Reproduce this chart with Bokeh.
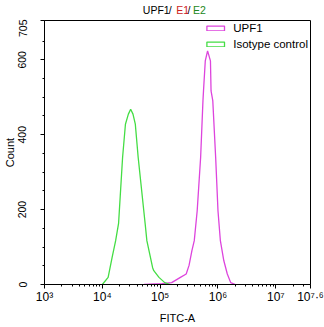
import numpy as np
from bokeh.plotting import figure
from bokeh.layouts import column
from bokeh.models import (Range1d, FixedTicker, Legend, LegendItem, ColumnDataSource)
from bokeh.core.properties import value
from bokeh.embed import file_html
from bokeh.resources import INLINE

# ---- data (FITC-A value, count) ----
iso_fitc = [1.0e4, 1.26e4, 1.48e4, 1.70e4, 1.91e4, 2.24e4, 2.51e4, 2.82e4, 3.09e4,
            3.39e4, 3.72e4, 4.17e4, 5.50e4, 5.89e4, 7.41e4, 7.76e4, 9.55e4, 1.20e5, 1.48e5]
iso_count = [0, 19, 73, 117, 163, 339, 428, 455, 468,
             455, 428, 339, 163, 117, 45, 37, 19, 5, 0]

upf_fitc = [5.25e4, 1.07e5, 1.58e5, 2.24e5, 2.82e5, 3.16e5, 3.55e5, 3.89e5, 4.37e5,
            5.01e5, 5.50e5, 5.62e5, 6.03e5, 6.61e5, 7.41e5, 7.59e5, 8.13e5, 9.12e5,
            1.0e6, 1.10e6, 1.26e6, 1.45e6, 1.66e6, 2.0e6]
upf_count = [0, 2, 5, 19, 28, 51, 91, 117, 197,
             339, 491, 517, 597, 624, 597, 517, 491, 339,
             197, 117, 64, 28, 5, 0]

x_ticks = [1e3, 1e4, 1e5, 1e6, 1e7, 10 ** 7.6]
x_tick_labels = ["10³", "10⁴", "10⁵", "10⁶", "10⁷", "10⁷·⁶"]
y_ticks = [0, 200, 400, 600, 705]
y_minor = [50, 100, 150, 250, 300, 350, 450, 500, 550, 650]
x_minor = [m * 10 ** d for d in range(3, 8) for m in range(2, 10) if m * 10 ** d < 10 ** 7.6]

title_parts = ["UPF1", "/", "E1", "/", "E2"]
title_colors = ["black", "black", "#cc2222", "black", "#228822"]

MAGENTA = "#dd44dd"
GREEN = "#44dd44"
FONT = "Liberation Sans"
TITLE_H = 19
FRAME_L, FRAME_R = 43, 310   # canvas pixels of the plot frame (title strip shares them)

# ---- title strip (its frame is aligned with the plot frame by the column) ----
tf = figure(width=324, height=TITLE_H, x_range=Range1d(FRAME_L, FRAME_R),
            y_range=Range1d(TITLE_H, 0),
            output_backend="svg", toolbar_location=None,
            min_border_left=0, min_border_right=0, min_border_top=0, min_border_bottom=0)
tf.axis.visible = False
tf.grid.visible = False
tf.outline_line_color = None
tf.background_fill_color = "white"
tf.border_fill_color = "white"
tsrc = ColumnDataSource(dict(x=[141.7, 167.6, 175.3, 186.6, 192.0], y=[9.5] * 5,
                             text=title_parts, color=title_colors))
tf.text(x="x", y="y", text="text", text_color="color", source=tsrc,
        text_font=value(FONT), text_font_size="10.5px",
        text_align="left", text_baseline="middle")

# ---- main plot ----
p = figure(width=324, height=327 - TITLE_H, x_axis_type="log",
           x_range=Range1d(1e3, 10 ** 7.6), y_range=Range1d(0, 705),
           output_backend="svg", toolbar_location=None,
           min_border_left=FRAME_L, min_border_right=324 - FRAME_R,
           min_border_top=1, min_border_bottom=43)

p.background_fill_color = "white"
p.border_fill_color = "white"
p.outline_line_color = "black"
p.outline_line_width = 1
p.grid.visible = False

r_upf = p.line(upf_fitc, upf_count, line_color=MAGENTA, line_width=1.3)
r_iso = p.line(iso_fitc, iso_count, line_color=GREEN, line_width=1.3)

# legend swatches (outlined boxes, no visible data)
nan = [float("nan")]
sw_upf = p.quad(left=nan, right=nan, top=nan, bottom=nan, fill_alpha=0,
                line_color=MAGENTA, line_width=1.3)
sw_iso = p.quad(left=nan, right=nan, top=nan, bottom=nan, fill_alpha=0,
                line_color=GREEN, line_width=1.3)

legend = Legend(items=[LegendItem(label="UPF1", renderers=[sw_upf]),
                       LegendItem(label="Isotype control", renderers=[sw_iso])],
                location="top_right", margin=2, padding=0, spacing=4,
                glyph_width=22, glyph_height=6, label_height=12, label_standoff=7,
                border_line_color=None, background_fill_alpha=0,
                label_text_font=FONT, label_text_font_size="11.5px", label_text_color="black")
p.add_layout(legend)

# axes
xa = p.xaxis[0]
xa.ticker = FixedTicker(ticks=x_ticks, minor_ticks=x_minor)
xa.major_label_overrides = {t: l for t, l in zip(x_ticks, x_tick_labels)}
ya = p.yaxis[0]
ya.ticker = FixedTicker(ticks=y_ticks, minor_ticks=y_minor)
ya.major_label_orientation = "vertical"

for ax in (xa, ya):
    ax.axis_line_color = "black"
    ax.major_tick_line_color = "black"
    ax.minor_tick_line_color = "black"
    ax.major_tick_out = 4
    ax.major_tick_in = 0
    ax.minor_tick_out = 2
    ax.minor_tick_in = 0
    ax.major_label_text_font = FONT
    ax.major_label_text_color = "black"
    ax.axis_label_text_font = FONT
    ax.axis_label_text_font_size = "11px"
    ax.axis_label_text_font_style = "normal"
    ax.axis_label_text_color = "black"

xa.major_label_text_font_size = "12px"
ya.major_label_text_font_size = "10.5px"
xa.axis_label = "FITC-A"
xa.major_label_standoff = 1
xa.axis_label_standoff = 5
ya.axis_label = "Count"
ya.major_label_standoff = 14
ya.axis_label_standoff = 0

layout = column(tf, p, spacing=0)
open("out.html", "w").write(file_html(layout, INLINE))
